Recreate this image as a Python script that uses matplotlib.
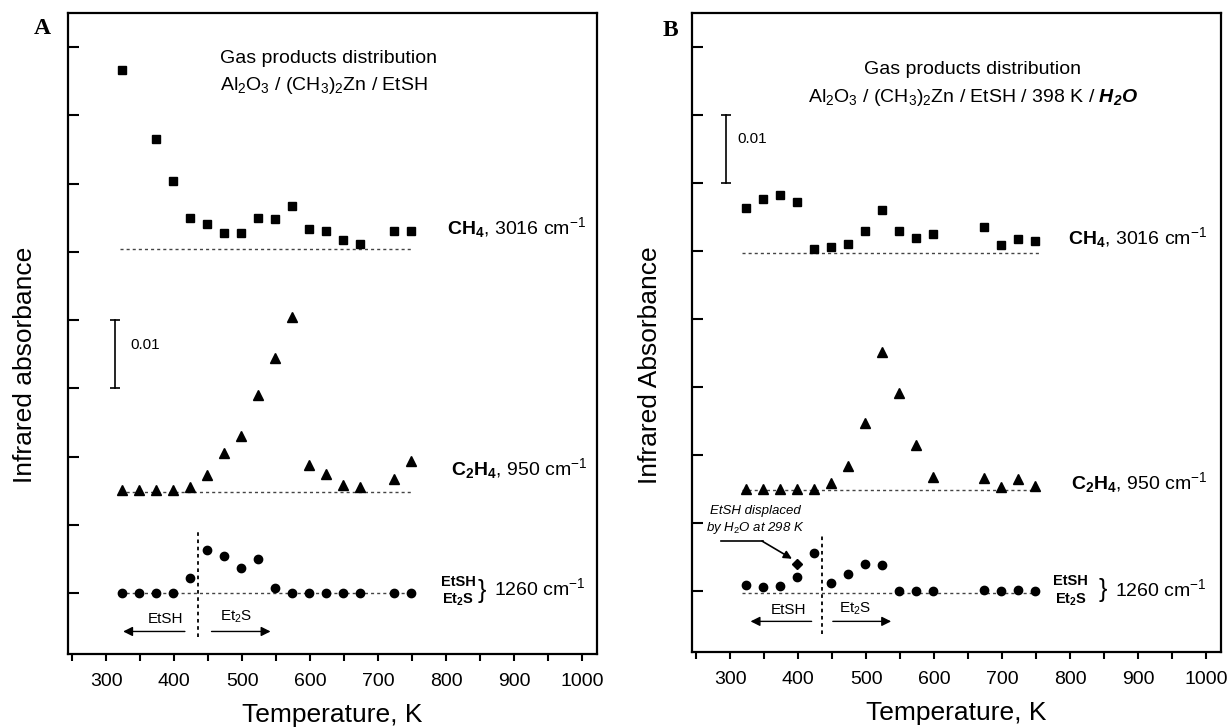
import matplotlib
matplotlib.use('Agg')
import matplotlib.pyplot as plt
from matplotlib.ticker import MultipleLocator

plt.rcParams['font.family'] = ['Liberation Sans', 'DejaVu Sans']
plt.rcParams['mathtext.fontset'] = 'custom'
plt.rcParams['mathtext.rm'] = 'Liberation Sans'
plt.rcParams['mathtext.it'] = 'Liberation Sans:italic'
plt.rcParams['mathtext.bf'] = 'Liberation Sans:bold'
plt.rcParams['mathtext.bfit'] = 'Liberation Sans:italic:bold'

# ---------------- data (absorbance above each trace's baseline) ----------------
# Panel A : Al2O3 / (CH3)2Zn / EtSH
temps_A = [323, 348, 373, 398, 423, 448, 473, 498, 523, 548, 573, 598, 623, 648, 673, 723, 748]
temps_A_ch4 = [323, 373, 398, 423, 448, 473, 498, 523, 548, 573, 598, 623, 648, 673, 723, 748]
ch4_A = [0.0263, 0.0162, 0.0100, 0.0045, 0.0037, 0.0024, 0.0024, 0.0045, 0.0044, 0.0063,
         0.0030, 0.0026, 0.0014, 0.0008, 0.0026, 0.0027]
c2h4_A = [0.0003, 0.0003, 0.0003, 0.0003, 0.0007, 0.0025, 0.0058, 0.0082, 0.0142, 0.0196,
          0.0257, 0.0040, 0.0027, 0.0010, 0.0007, 0.0020, 0.0045]
etsh_A = [0.0, 0.0, 0.0, 0.0, 0.0023, 0.0064, 0.0054, 0.0037, 0.0050, 0.0008,
          0.0, 0.0, 0.0, 0.0, 0.0, 0.0, 0.0]
offsets_A = {'CH4': 0.0504, 'C2H4': 0.0148, 'EtSH': 0.0}

# Panel B : Al2O3 / (CH3)2Zn / EtSH / 398 K / H2O
temps_B = [323, 348, 373, 398, 423, 448, 473, 498, 523, 548, 573, 598, 673, 698, 723, 748]
ch4_B = [0.0067, 0.0080, 0.0086, 0.0075, 0.0006, 0.0009, 0.0014, 0.0032, 0.0064, 0.0032,
         0.0022, 0.0028, 0.0039, 0.0012, 0.0021, 0.0018]
c2h4_B = [0.0001, 0.0001, 0.0001, 0.0001, 0.0001, 0.0010, 0.0036, 0.0098, 0.0203, 0.0143,
          0.0066, 0.0019, 0.0017, 0.0005, 0.0016, 0.0006]
etsh_B = [0.0010, 0.0007, 0.0008, 0.0021, 0.0056, 0.0012, 0.0025, 0.0040, 0.0039, 0.0,
          0.0, 0.0, 0.0002, 0.0, 0.0002, 0.0001]
displaced_T = [398]
displaced_B = [0.0040]
offsets_B = {'CH4': 0.0497, 'C2H4': 0.0149, 'EtSH': 0.0}

x_ticks = [300, 400, 500, 600, 700, 800, 900, 1000]

# ---------------- figure ----------------
W, H = 1228, 728
fig = plt.figure(figsize=(W / 100, H / 100), dpi=100)


def ax_rect(l, t, r, b):
    return [l / W, 1 - b / H, (r - l) / W, (b - t) / H]


axA = fig.add_axes(ax_rect(68, 13, 597, 654))
axB = fig.add_axes(ax_rect(692, 13, 1221, 652))

dot = (0, (2.2, 2.2))
base_col = '#444444'


def style(ax):
    ax.set_xlim(244, 1022)
    ax.set_ylim(-0.0089, 0.085)
    ax.xaxis.set_major_locator(plt.FixedLocator(x_ticks))
    ax.xaxis.set_minor_locator(MultipleLocator(50))
    ax.yaxis.set_major_locator(MultipleLocator(0.01))
    ax.tick_params(axis='x', which='both', direction='out', length=5, width=1.5,
                   labelsize=14, pad=9)
    ax.tick_params(axis='y', which='both', direction='in', length=8, width=1.5,
                   labelleft=False)
    for s in ax.spines.values():
        s.set_linewidth(1.6)
    ax.set_xlabel('Temperature, K', fontsize=19, labelpad=9)


def add(v, off):
    return [x + off for x in v]


# ---- Panel A ----
ax = axA
style(ax)
for key in ['CH4', 'C2H4', 'EtSH']:
    ax.plot([320, 752], [offsets_A[key]] * 2, ls=dot, lw=1.0, color=base_col, zorder=1)
ax.plot(temps_A_ch4, add(ch4_A, offsets_A['CH4']), 's', color='k', ms=5.5, zorder=3)
ax.plot(temps_A, add(c2h4_A, offsets_A['C2H4']), '^', color='k', ms=6.5, zorder=3)
ax.plot(temps_A, add(etsh_A, offsets_A['EtSH']), 'o', color='k', ms=6, zorder=3)

ax.plot([435, 435], [-0.0064, 0.0094], ls=(0, (2, 2)), lw=1.3, color='k')
ax.annotate('', xy=(321, -0.0056), xytext=(420, -0.0056),
            arrowprops=dict(arrowstyle='-|>', color='k', lw=1.0, mutation_scale=14))
ax.annotate('', xy=(546, -0.0056), xytext=(451, -0.0056),
            arrowprops=dict(arrowstyle='-|>', color='k', lw=1.0, mutation_scale=14))
ax.text(387, -0.0038, 'EtSH', fontsize=11, ha='center', va='center')
ax.text(491, -0.0035, r'Et$_2$S', fontsize=11, ha='center', va='center')

ax.plot([313, 313], [0.03, 0.04], color='k', lw=1.2)
ax.plot([313, 313], [0.03, 0.04], '_', color='k', ms=7, mew=1.2)
ax.text(336, 0.0363, '0.01', fontsize=11, ha='left', va='center')

ax.text(468, 0.0784, 'Gas products distribution', fontsize=14, ha='left', va='center')
ax.text(468, 0.0744, r'Al$_2$O$_3$ / (CH$_3$)$_2$Zn / EtSH', fontsize=14,
        ha='left', va='center')

ax.text(801, 0.0535, r'$\mathbf{CH_4}$, 3016 cm$^{-1}$', fontsize=14, ha='left', va='center')
ax.text(807, 0.0182, r'$\mathbf{C_2H_4}$, 950 cm$^{-1}$', fontsize=14, ha='left', va='center')
ax.text(818, 0.0017, 'EtSH', fontsize=10.5, fontweight='bold', ha='center', va='center')
ax.text(818, -0.0010, r'$\mathbf{Et_2S}$', fontsize=10.5, ha='center', va='center')
ax.text(853, 0.0004, '}', fontsize=18, ha='center', va='center')
ax.text(871, 0.0007, r'1260 cm$^{-1}$', fontsize=14, ha='left', va='center')

# ---- Panel B ----
ax = axB
style(ax)
ax.plot([317, 756], [offsets_B['CH4']] * 2, ls=dot, lw=1.0, color=base_col, zorder=1)
ax.plot([317, 756], [offsets_B['C2H4']] * 2, ls=dot, lw=1.0, color=base_col, zorder=1)
ax.plot([317, 756], [offsets_B['EtSH'] - 0.0002] * 2, ls=dot, lw=1.0, color=base_col, zorder=1)
ax.plot(temps_B, add(ch4_B, offsets_B['CH4']), 's', color='k', ms=5.5, zorder=3)
ax.plot(temps_B, add(c2h4_B, offsets_B['C2H4']), '^', color='k', ms=6.5, zorder=3)
ax.plot(temps_B, add(etsh_B, offsets_B['EtSH']), 'o', color='k', ms=6, zorder=3)
ax.plot(displaced_T, add(displaced_B, offsets_B['EtSH']), 'D', color='k', ms=5, zorder=3)

ax.plot([435, 435], [-0.0062, 0.0082], ls=(0, (2, 2)), lw=1.3, color='k')
ax.annotate('', xy=(326, -0.0044), xytext=(424, -0.0044),
            arrowprops=dict(arrowstyle='-|>', color='k', lw=1.0, mutation_scale=14))
ax.annotate('', xy=(541, -0.0044), xytext=(447, -0.0044),
            arrowprops=dict(arrowstyle='-|>', color='k', lw=1.0, mutation_scale=14))
ax.text(386, -0.0027, 'EtSH', fontsize=11, ha='center', va='center')
ax.text(484, -0.0025, r'Et$_2$S', fontsize=11, ha='center', va='center')

ax.plot([294, 294], [0.06, 0.07], color='k', lw=1.2)
ax.plot([294, 294], [0.06, 0.07], '_', color='k', ms=7, mew=1.2)
ax.text(310, 0.0665, '0.01', fontsize=11, ha='left', va='center')

ax.text(656, 0.0767, 'Gas products distribution', fontsize=14, ha='center', va='center')
ax.text(658, 0.0726, r'Al$_2$O$_3$ / (CH$_3$)$_2$Zn / EtSH / 398 K / $\mathbfit{H_2O}$',
        fontsize=14, ha='center', va='center')

ax.text(797, 0.0520, r'$\mathbf{CH_4}$, 3016 cm$^{-1}$', fontsize=14, ha='left', va='center')
ax.text(801, 0.0160, r'$\mathbf{C_2H_4}$, 950 cm$^{-1}$', fontsize=14, ha='left', va='center')
ax.text(801, 0.0015, 'EtSH', fontsize=10.5, fontweight='bold', ha='center', va='center')
ax.text(801, -0.0012, r'$\mathbf{Et_2S}$', fontsize=10.5, ha='center', va='center')
ax.text(848, 0.0002, '}', fontsize=18, ha='center', va='center')
ax.text(866, 0.0004, r'1260 cm$^{-1}$', fontsize=14, ha='left', va='center')

ax.text(337, 0.0118, 'EtSH displaced', fontsize=9.5, style='italic', ha='center', va='center')
ax.text(337, 0.0093, r'by H$_2$O at 298 K', fontsize=9.5, style='italic', ha='center',
        va='center')
ax.plot([286, 348], [0.0074, 0.0074], color='k', lw=1.2)
ax.annotate('', xy=(391, 0.0048), xytext=(347, 0.0074),
            arrowprops=dict(arrowstyle='-|>', color='k', lw=1.2, mutation_scale=12,
                            shrinkA=0, shrinkB=0))

# y labels and panel letters
fig.text(25 / W, 1 - 365 / H, 'Infrared absorbance', rotation=90, fontsize=19,
         ha='center', va='center')
fig.text(650 / W, 1 - 365 / H, 'Infrared Absorbance', rotation=90, fontsize=19,
         ha='center', va='center')
fig.text(42 / W, 1 - 28 / H, 'A', fontsize=17, fontweight='bold',
         family='Liberation Serif', ha='center', va='center')
fig.text(670 / W, 1 - 30 / H, 'B', fontsize=17, fontweight='bold',
         family='Liberation Serif', ha='center', va='center')

fig.savefig('out.png', dpi=100)
